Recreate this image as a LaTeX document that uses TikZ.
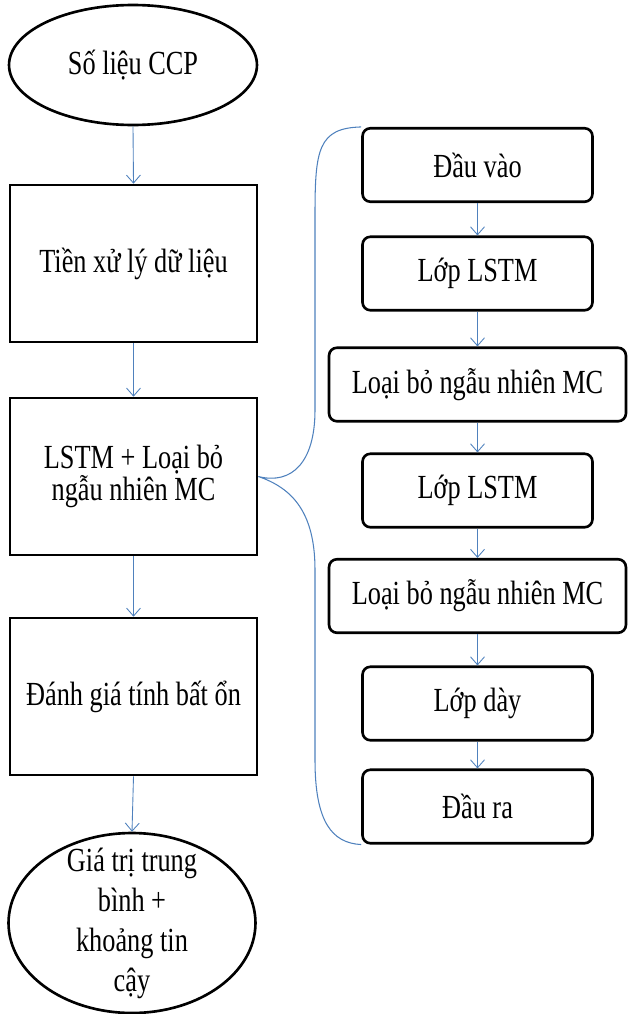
\documentclass[tikz,border=0pt]{standalone}
\usepackage{fontspec}
\setmainfont{Liberation Serif}[FakeStretch=0.78]
\usetikzlibrary{arrows.meta,shapes.geometric}
\definecolor{arw}{RGB}{79,129,189}
\tikzset{
  trm/.style={ellipse,draw=black,line width=1.5pt,minimum width=4.96cm,minimum height=2.4cm,inner sep=0pt,font=\fontsize{19.2}{22.8}\selectfont},
  stp/.style={rectangle,draw=black,line width=1.5pt,minimum width=4.94cm,minimum height=3.14cm,inner sep=2pt,align=center,font=\fontsize{19.2}{18.4}\selectfont},
  lyr/.style={rectangle,rounded corners=4.5pt,draw=black,line width=1.5pt,minimum width=4.6cm,minimum height=1.47cm,inner sep=2pt,font=\fontsize{19.2}{22.8}\selectfont},
  lyrw/.style={lyr,minimum width=5.94cm},
  txt/.style={align=center,font=\fontsize{19.2}{22.8}\selectfont},
  flw/.style={-{Straight Barb[length=1.6mm,width=2.8mm]},draw=arw,line width=.5pt},
  brc/.style={draw=arw,line width=.6pt},
}
\begin{document}
\begin{tikzpicture}[x=0.02cm,y=-0.02cm]
\useasboundingbox (0,0) rectangle (627,1014);
% ---- main flow
\node[trm] (ccp) at (133,65) {Số liệu CCP};
\node[stp] (prep) at (133.5,263.5) {Tiền xử lý dữ liệu};
\node[stp] (mdl) at (133.5,476.5) {LSTM + Loại bỏ\\ngẫu nhiên MC};
\node[stp] (unc) at (133.5,696.5) {Đánh giá tính bất ổn};
\node[trm,minimum width=4.94cm,minimum height=3.6cm] (res) at (132,923) {};
\node[txt] (restxt) at (res) {Giá trị trung\\bình +\\khoảng tin\\cậy};
\draw[flw] (ccp.south) -- (prep.north);
\draw[flw] (prep) -- (mdl);
\draw[flw] (mdl) -- (unc);
\draw[flw] (unc.south) -- (res.north);
% ---- network layers
\node[lyr]  (inp) at (477.5,165) {Đầu vào};
\node[lyr]  (ls1) at (477.5,273.5) {Lớp LSTM};
\node[lyrw] (mc1) at (477.5,384.5) {Loại bỏ ngẫu nhiên MC};
\node[lyr]  (ls2) at (477.5,490.5) {Lớp LSTM};
\node[lyrw] (mc2) at (477.5,596) {Loại bỏ ngẫu nhiên MC};
\node[lyr]  (dns) at (477.5,703.5) {Lớp dày};
\node[lyr]  (out) at (477.5,806.5) {Đầu ra};
\draw[flw] (inp) -- (ls1);
\draw[flw] (ls1) -- (mc1);
\draw[flw] (mc1) -- (ls2);
\draw[flw] (ls2) -- (mc2);
\draw[flw] (mc2) -- (dns);
\draw[flw] (dns) -- (out);
% ---- brace
\draw[brc] (inp.north west) .. controls (318,128) and (315,150) .. (315,215) -- (315,410)
  .. controls (315,462) and (292,485) .. (mdl.east)
  .. controls (292,488) and (315,512) .. (315,570) -- (315,760)
  .. controls (315,822) and (332,843) .. (out.south west);
\end{tikzpicture}
\end{document}
